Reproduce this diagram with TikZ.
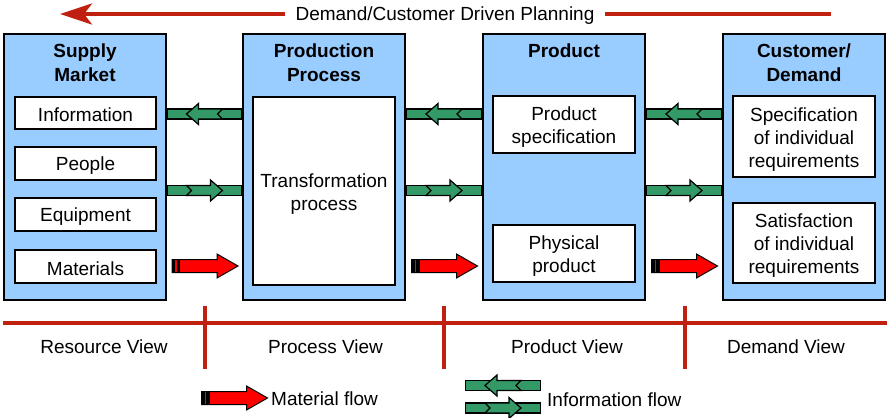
\documentclass[tikz,border=0pt]{standalone}
\usepackage{fontspec}
\setmainfont{Liberation Sans}
\usetikzlibrary{calc,arrows.meta}

\definecolor{panelblue}{HTML}{99CCFF}
\definecolor{flowgreen}{HTML}{339966}
\definecolor{matred}{HTML}{FF0000}
\definecolor{viewred}{HTML}{C0200F}

\newcommand\txtsize{\fontsize{19}{23}\selectfont}

\tikzset{
  panel/.style={draw=black, line width=2pt, fill=panelblue,
    minimum width=162pt, minimum height=266pt, inner sep=0pt},
  itembox/.style={draw=black, line width=1.6pt, fill=white,
    minimum width=141pt, inner sep=0pt},
  itemtext/.style={align=center, font=\txtsize, inner sep=0pt, yshift=-3pt},
  paneltitle/.style={align=center, font=\bfseries\fontsize{19}{24}\selectfont},
  viewlabel/.style={font=\txtsize},
  viewline/.style={draw=viewred, line width=4pt},
  % green information-flow arrow on a bar, pointing left
  infoflow/.pic={
    \filldraw[fill=flowgreen, draw=black, line width=1.2pt]
      (-37.5,-5) rectangle (37.5,5);
    \filldraw[fill=flowgreen, draw=black, line width=1.2pt, line join=miter]
      (-18,0) -- (-6,-10.5) -- (-6,-5) -- (18,-5) -- (13,0) -- (18,5)
      -- (-6,5) -- (-6,10.5) -- cycle;
  },
  % red material-flow block arrow with striped tail, pointing right
  matflow/.pic={
    \filldraw[fill=matred, draw=black, line width=1pt, line join=miter]
      (-32.5,-6.5) -- (12.5,-6.5) -- (12.5,-12) -- (33.5,0) -- (12.5,12)
      -- (12.5,6.5) -- (-32.5,6.5) -- cycle;
    \fill[black] (-32.5,-6.5) rectangle (-29.5,6.5);
    \fill[black] (-28,-6.5) rectangle (-24.5,6.5);
  }
}

\begin{document}
\begin{tikzpicture}[x=1pt, y=-1pt]
\useasboundingbox (0,0) rectangle (887,418);

% planning direction arrow
\node[font=\txtsize, inner xsep=10pt, inner ysep=0pt, yshift=-2pt] (plan) at (445,14)
  {Demand/Customer Driven Planning};
\coordinate (planL) at (60,14);
\coordinate (planR) at (831,14);
\draw[viewline, -{Stealth[length=32pt, width=21pt, inset=8pt]}]
  (plan.west |- planL) -- (planL);
\draw[viewline] (plan.east |- planR) -- (planR);

% four panels
\node[panel] (sm) at (85,167) {};
\node[panel] (pp) at (324,167) {};
\node[panel] (pr) at (564,167) {};
\node[panel] (cd) at (804,167) {};

\node[paneltitle] (smt) at (85,63) {Supply\\Market};
\node[paneltitle] (ppt) at (324,63) {Production\\Process};
\node[paneltitle] (prt) at (564,51) {Product};
\node[paneltitle] (cdt) at (804,63) {Customer/\\Demand};

% supply market items
\node[itembox, minimum height=32pt,
  label={[itemtext, yshift=1pt]center:Information}] (info) at (85.5,113) {};
\node[itembox, minimum height=33pt,
  label={[itemtext, yshift=1pt]center:People}] (people) at (85.5,163.5) {};
\node[itembox, minimum height=33pt,
  label={[itemtext, yshift=1pt]center:Equipment}] (equip) at (85.5,214.5) {};
\node[itembox, minimum height=33pt,
  label={[itemtext, yshift=1pt]center:Materials}] (mat) at (85.5,266.5) {};

% production process
\node[itembox, minimum width=142pt, minimum height=188pt,
  label={[itemtext]center:{Transformation\\process}}] (transf) at (324,191) {};

% product
\node[itembox, minimum width=142pt, minimum height=57pt,
  label={[itemtext]center:{Product\\specification}}] (pspec) at (564,124.5) {};
\node[itembox, minimum width=142pt, minimum height=57pt,
  label={[itemtext]center:{Physical\\product}}] (phys) at (564,253.5) {};

% customer / demand
\node[itembox, minimum width=142pt, minimum height=81pt,
  label={[itemtext]center:{Specification\\of individual\\requirements}}] (spec) at (804,136.5) {};
\node[itembox, minimum width=142pt, minimum height=80pt,
  label={[itemtext]center:{Satisfaction\\of individual\\requirements}}] (satis) at (804,243) {};

% flows between panels
\foreach \gx in {204.5, 444, 684} {
  \pic at (\gx,114) {infoflow};
  \pic[xscale=-1] at (\gx,190.5) {infoflow};
  \pic at (\gx,266) {matflow};
}

% views
\coordinate (baseL) at (3,322.5);
\coordinate (baseR) at (887,322.5);
\draw[viewline] (baseL) -- (baseR);
\foreach \vx in {205, 444, 685} {
  \draw[viewline] (\vx,306) -- (\vx,369);
}
\node[viewlabel] (rv) at (104,347) {Resource View};
\node[viewlabel] (pv) at (325.5,347) {Process View};
\node[viewlabel] (prv) at (567,347) {Product View};
\node[viewlabel] (dv) at (786,347) {Demand View};

% legend
\pic at (234,398) {matflow};
\node[font=\txtsize, anchor=west, inner sep=0pt] (matlbl) at (271,399) {Material flow};
\pic at (503,385.5) {infoflow};
\pic[xscale=-1] at (503,408) {infoflow};
\node[font=\txtsize, anchor=west, inner sep=0pt] (infolbl) at (547,400) {Information flow};
\end{tikzpicture}
\end{document}
